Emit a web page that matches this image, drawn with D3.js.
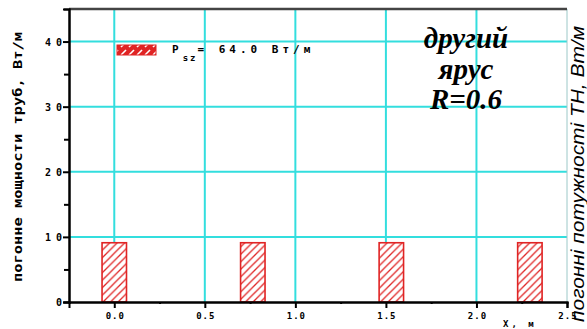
<!DOCTYPE html>
<html>
<head>
<meta charset="utf-8">
<script src="https://cdn.jsdelivr.net/npm/d3@7"></script>
<style>
  html, body { margin: 0; padding: 0; background: #fff; overflow: hidden; }
  svg { display: block; }
</style>
</head>
<body>
<div class="container"></div>
<script>
// chart data
const barPositions = [0.0, 0.765, 1.53, 2.295];
const barValues = [9.1, 9.1, 9.1, 9.1];
const barWidth = 0.135;
const yMajorTicks = [0, 10, 20, 30, 40];
const yMinorTicks = [5, 15, 25, 35];
const xMajorTicks = [0, 0.5, 1.0, 1.5, 2.0, 2.5];
const xMinorTicks = [0.25, 0.75, 1.25, 1.75, 2.25];
const xTickLabels = ["0.0", "0.5", "1.0", "1.5", "2.0", "2.5"];
const noteLines = ["другий", "ярус", "R=0.6"];

const width = 587;
const height = 329;
const plot = { left: 69, top: 9, right: 567, bottom: 302 };

const svg = d3.select(".container")
    .append("svg")
    .attr("width", width)
    .attr("height", height);

const x = d3.scaleLinear().domain([-0.25, 2.5]).range([plot.left, plot.right]);
const y = d3.scaleLinear().domain([0, 45]).range([plot.bottom, plot.top]);

const defs = svg.append("defs");
const hatch = defs.append("pattern")
    .attr("id", "hatch")
    .attr("patternUnits", "userSpaceOnUse")
    .attr("width", 7.5)
    .attr("height", 7.5);
hatch.append("rect").attr("width", 7.5).attr("height", 7.5).attr("fill", "#fff");
hatch.append("path")
    .attr("d", "M-2,2 L2,-2 M0,7.5 L7.5,0 M5.5,9.5 L9.5,5.5")
    .attr("stroke", "#e02424")
    .attr("stroke-width", 1.3);

const hatchDense = defs.append("pattern")
    .attr("id", "hatchDense")
    .attr("patternUnits", "userSpaceOnUse")
    .attr("width", 8)
    .attr("height", 8);
hatchDense.append("rect").attr("width", 8).attr("height", 8).attr("fill", "#e02424");
hatchDense.append("path")
    .attr("d", "M1,7 L6,2")
    .attr("stroke", "#fff")
    .attr("stroke-width", 1.6);

// grid
const grid = svg.append("g").attr("stroke", "#33dede").attr("stroke-width", 2);
grid.selectAll("line.gx")
    .data(xMajorTicks.filter((d) => d < 2.5))
    .enter()
    .append("line")
    .attr("x1", (d) => x(d))
    .attr("x2", (d) => x(d))
    .attr("y1", plot.top)
    .attr("y2", plot.bottom);
grid.selectAll("line.gy")
    .data(yMajorTicks.filter((d) => d > 0))
    .enter()
    .append("line")
    .attr("x1", plot.left)
    .attr("x2", plot.right)
    .attr("y1", (d) => y(d))
    .attr("y2", (d) => y(d));

// right and top frame
svg.append("line")
    .attr("x1", plot.right).attr("x2", plot.right)
    .attr("y1", plot.top).attr("y2", plot.bottom)
    .attr("stroke", "#9cc8c8").attr("stroke-width", 1);
svg.append("line")
    .attr("x1", plot.left).attr("x2", plot.right)
    .attr("y1", plot.top).attr("y2", plot.top)
    .attr("stroke", "#444").attr("stroke-width", 2.5);

// bars
svg.selectAll("rect.bar")
    .data(barPositions)
    .enter()
    .append("rect")
    .attr("class", "bar")
    .attr("x", (d) => x(d - barWidth / 2))
    .attr("y", (d, i) => y(barValues[i]))
    .attr("width", (d) => x(d + barWidth / 2) - x(d - barWidth / 2))
    .attr("height", (d, i) => y(0) - y(barValues[i]))
    .attr("fill", "url(#hatch)")
    .attr("stroke", "#e02424")
    .attr("stroke-width", 1.6);

// axes
const axisLeft = d3.axisLeft(y).tickValues(yMajorTicks).tickSize(6).tickFormat("");
const axisLeftMinor = d3.axisLeft(y).tickValues(yMinorTicks).tickSize(5).tickFormat("");
const axisBottom = d3.axisBottom(x).tickValues(xMajorTicks).tickSize(6).tickFormat("");
const axisBottomMinor = d3.axisBottom(x).tickValues(xMinorTicks).tickSize(2).tickFormat("");

const styleAxis = (g) => {
    g.select(".domain").attr("stroke", "#000").attr("stroke-width", 2);
    g.selectAll(".tick line").attr("stroke", "#000").attr("stroke-width", 2);
};

svg.append("g").attr("transform", `translate(${plot.left},0)`).call(axisLeft).call(styleAxis);
svg.append("g").attr("transform", `translate(${plot.left},0)`).call(axisLeftMinor).call(styleAxis);
svg.append("g").attr("transform", `translate(0,${plot.bottom})`).call(axisBottom).call(styleAxis);
svg.append("g").attr("transform", `translate(0,${plot.bottom})`).call(axisBottomMinor).call(styleAxis);

// tick labels
svg.selectAll("text.ylab")
    .data(yMajorTicks)
    .enter()
    .append("text")
    .attr("x", 67)
    .attr("y", (d) => y(d) + 4)
    .attr("text-anchor", "end")
    .attr("font-family", "DejaVu Sans Mono")
    .attr("font-weight", "bold")
    .attr("font-size", "10px")
    .attr("letter-spacing", "5px")
    .text((d) => d);

svg.selectAll("text.xlab")
    .data(xMajorTicks)
    .enter()
    .append("text")
    .attr("x", (d) => x(d) + 1)
    .attr("y", 319)
    .attr("text-anchor", "middle")
    .attr("font-family", "DejaVu Sans Mono")
    .attr("font-weight", "bold")
    .attr("font-size", "9px")
    .attr("letter-spacing", "1px")
    .text((d, i) => xTickLabels[i]);

// axis titles
svg.append("text")
    .attr("transform", "translate(22,157) rotate(-90)")
    .attr("text-anchor", "middle")
    .attr("font-family", "DejaVu Sans Mono")
    .attr("font-weight", "bold")
    .attr("font-size", "12px")
    .attr("textLength", 250)
    .attr("lengthAdjust", "spacingAndGlyphs")
    .text("погонне мощности труб, Вт/м");

svg.append("text")
    .attr("x", 503)
    .attr("y", 327)
    .attr("font-family", "DejaVu Sans Mono")
    .attr("font-weight", "bold")
    .attr("font-size", "9px")
    .attr("letter-spacing", "3px")
    .text("X, м");

svg.append("text")
    .attr("transform", "translate(584,174) rotate(-90)")
    .attr("text-anchor", "middle")
    .attr("font-family", "Liberation Sans")
    .attr("font-style", "italic")
    .attr("font-size", "19px")
    .attr("textLength", 296)
    .attr("lengthAdjust", "spacingAndGlyphs")
    .text("погонні потужності ТН, Вт/м");

// legend
svg.append("rect")
    .attr("x", 117).attr("y", 45)
    .attr("width", 39).attr("height", 10)
    .attr("fill", "url(#hatchDense)")
    .attr("stroke", "#e02424")
    .attr("stroke-width", 1);

const legendText = svg.append("text")
    .attr("x", 172)
    .attr("y", 53)
    .attr("font-family", "DejaVu Sans Mono")
    .attr("font-weight", "bold")
    .attr("font-size", "11px");
legendText.append("tspan").text("P");
legendText.append("tspan").attr("dy", 8).attr("dx", 4).attr("font-size", "9px").attr("letter-spacing", "2px").text("sz");
legendText.append("tspan").attr("dy", -8).attr("letter-spacing", "4px").text("= 64.0 Вт/м");

// note
svg.selectAll("text.note")
    .data(noteLines)
    .enter()
    .append("text")
    .attr("x", 466)
    .attr("y", (d, i) => 48 + i * 30.5)
    .attr("text-anchor", "middle")
    .attr("font-family", "Liberation Serif")
    .attr("font-weight", "bold")
    .attr("font-style", "italic")
    .attr("font-size", "29px")
    .text((d) => d);
</script>
</body>
</html>
